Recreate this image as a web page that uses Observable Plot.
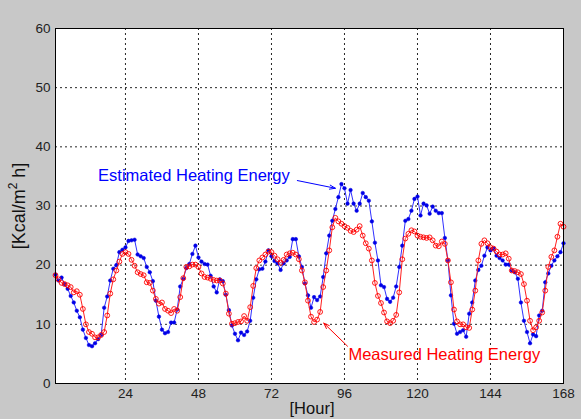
<!DOCTYPE html>
<html><head><meta charset="utf-8">
<script src="https://cdn.jsdelivr.net/npm/d3@7"></script>
<script src="https://cdn.jsdelivr.net/npm/@observablehq/plot@0.6"></script>
<style>
html,body{margin:0;padding:0;background:#c8c8c8;}
#chart{width:581px;height:419px;overflow:hidden;}
</style></head><body><div id="chart"></div>
<script>
// hour index 1..168
const hours = Array.from({length: 168}, (_, i) => i + 1);

const estimated = [
  18.4, 17.4, 17.9, 16.8, 16.0, 14.8, 13.7, 12.3, 11.2, 9.1,
  7.7, 6.5, 6.3, 6.8, 7.5, 8.2, 12.8, 14.7, 17.4, 19.4,
  20.0, 22.2, 22.6, 23.0, 24.1, 24.2, 24.3, 21.8, 21.5, 21.2,
  19.7, 18.8, 17.3, 14.0, 11.3, 9.1, 8.5, 8.7, 10.3, 10.3,
  12.5, 16.4, 17.7, 19.5, 20.2, 21.9, 23.3, 21.3, 20.6, 20.2,
  20.1, 18.2, 16.4, 15.4, 17.6, 17.3, 15.0, 12.4, 9.8, 8.4,
  7.3, 8.6, 8.2, 8.8, 10.6, 14.5, 17.6, 19.3, 19.4, 20.6,
  22.5, 21.5, 20.7, 20.3, 19.2, 20.3, 20.8, 21.4, 24.4, 24.4,
  21.5, 19.7, 16.9, 14.9, 12.8, 14.6, 14.1, 14.7, 18.0, 22.0,
  25.0, 27.5, 29.5, 31.5, 33.7, 33.0, 30.4, 32.7, 30.4, 29.2,
  30.4, 32.2, 31.5, 30.9, 27.4, 23.8, 20.8, 16.6, 16.3, 14.3,
  13.8, 14.5, 16.4, 19.7, 23.3, 27.5, 27.8, 29.2, 31.2, 31.6,
  28.4, 30.4, 30.1, 28.7, 29.9, 29.2, 28.8, 28.8, 24.6, 20.8,
  14.9, 10.1, 8.4, 8.7, 9.0, 7.9, 11.8, 13.7, 17.4, 19.2,
  19.9, 21.6, 23.0, 22.5, 22.8, 21.6, 21.2, 20.8, 20.1, 20.1,
  19.1, 18.8, 17.7, 13.7, 10.6, 8.7, 6.8, 8.3, 8.0, 11.5,
  12.3, 17.1, 18.6, 19.9, 20.8, 21.5, 22.2, 23.7
];

const measured = [
  18.3, 17.6, 17.0, 16.8, 16.6, 16.3, 15.4, 15.6, 15.0, 12.6,
  10.0, 8.7, 8.4, 7.8, 7.8, 8.2, 8.7, 11.5, 15.2, 17.6,
  19.1, 20.6, 21.9, 22.2, 21.9, 20.9, 19.9, 18.8, 18.5, 18.3,
  17.1, 17.0, 15.7, 14.3, 13.5, 13.7, 12.6, 12.3, 11.9, 12.6,
  12.3, 14.6, 17.8, 19.7, 19.8, 20.1, 20.1, 19.7, 18.6, 18.0,
  17.9, 17.7, 17.5, 17.4, 17.4, 16.9, 15.2, 11.8, 10.1, 10.2,
  10.4, 10.5, 11.4, 10.6, 12.9, 16.5, 19.5, 20.8, 21.3, 21.8,
  22.3, 22.2, 21.6, 21.0, 20.4, 20.9, 21.8, 22.0, 22.1, 21.8,
  21.0, 19.1, 17.1, 14.0, 11.3, 10.4, 10.8, 12.1, 16.3, 19.1,
  22.5, 26.4, 28.0, 27.4, 27.0, 26.6, 26.3, 25.8, 25.6, 26.0,
  26.6, 25.0, 23.7, 22.8, 20.8, 17.0, 14.8, 13.6, 12.0, 10.5,
  10.2, 10.6, 11.6, 15.4, 21.0, 24.5, 25.3, 25.9, 25.7, 25.0,
  24.8, 24.7, 24.6, 24.7, 24.2, 23.3, 23.2, 24.0, 23.6, 20.8,
  17.1, 12.5, 10.5, 10.0, 10.0, 9.5, 9.4, 12.5, 15.7, 20.8,
  23.6, 24.2, 23.7, 23.0, 22.8, 22.3, 21.8, 21.8, 22.0, 21.1,
  19.1, 19.0, 18.8, 18.5, 16.8, 14.0, 10.6, 9.0, 9.5, 10.6,
  12.0, 15.7, 19.7, 21.4, 22.5, 24.8, 27.0, 26.5
];

const xTicks = [24, 48, 72, 96, 120, 144, 168];
const yTicks = [0, 10, 20, 30, 40, 50, 60];
const seriesNames = ["Estimated Heating Energy", "Measured Heating Energy"];
const xLabel = "[Hour]";

const est = hours.map((h, i) => ({hour: h, value: estimated[i]}));
const mea = hours.map((h, i) => ({hour: h, value: measured[i]}));

const notes = [
  {name: seriesNames[0], x: 15, y: 35.15, color: "#0000ff", x1: 80.5, y1: 34.3, x2: 93, y2: 33.0},
  {name: seriesNames[1], x: 97.3, y: 4.9, color: "#ff0000", x1: 97.0, y1: 6.3, x2: 89.2, y2: 10.2}
];

const font = "'Liberation Sans', Arial, Helvetica, sans-serif";

const plot = Plot.plot({
  width: 581, height: 419,
  marginLeft: 55, marginRight: 18, marginTop: 28, marginBottom: 36,
  style: {background: "#c8c8c8", fontFamily: font, fontSize: "13.5px", color: "#222"},
  x: {domain: [1, 168]},
  y: {domain: [0, 60]},
  marks: [
    Plot.frame({fill: "white", stroke: "none"}),
    Plot.gridX(xTicks.slice(0, -1), {stroke: "#000", strokeOpacity: 0.85, strokeWidth: 1, strokeDasharray: "2,3"}),
    Plot.gridY(yTicks.slice(1, -1), {stroke: "#000", strokeOpacity: 0.85, strokeWidth: 1, strokeDasharray: "2,3"}),
    Plot.axisX(xTicks, {tickSize: 0, tickPadding: 5, label: null, fontSize: 13.5}),
    Plot.axisY(yTicks, {tickSize: 0, tickPadding: 5, label: null, fontSize: 13.5}),
    Plot.line(est, {x: "hour", y: "value", stroke: "#3030ff", strokeWidth: 1}),
    Plot.dot(est, {x: "hour", y: "value", r: 1.8, fill: "#0000e6", stroke: "#0000e6", strokeWidth: 0.5}),
    Plot.line(mea, {x: "hour", y: "value", stroke: "#ff2020", strokeWidth: 1}),
    Plot.dot(mea, {x: "hour", y: "value", r: 2.4, fill: "none", stroke: "#ff0000", strokeWidth: 0.9}),
    Plot.arrow(notes, {x1: "x1", y1: "y1", x2: "x2", y2: "y2", stroke: "color", strokeWidth: 1, headLength: 9, headAngle: 40}),
    Plot.text(notes, {x: "x", y: "y", text: "name", fill: "color", textAnchor: "start", fontSize: 16.5, fontFamily: font}),
    Plot.frame({stroke: "#000", strokeWidth: 1})
  ]
});

const svg = d3.select(plot);
const yl = svg.append("text")
  .attr("transform", "translate(20,206) rotate(-90)")
  .attr("text-anchor", "middle")
  .attr("dominant-baseline", "middle")
  .attr("font-family", font)
  .attr("font-size", 18)
  .attr("fill", "#111");
yl.append("tspan").text("[Kcal/m");
yl.append("tspan").attr("font-size", 12).attr("dy", -6).text("2");
yl.append("tspan").attr("dy", 6).text(" h]");

svg.append("text")
  .attr("x", 312).attr("y", 413.5)
  .attr("text-anchor", "middle")
  .attr("font-family", font)
  .attr("font-size", 16.5)
  .attr("fill", "#111")
  .text(xLabel);

document.getElementById("chart").appendChild(plot);
</script>
</body></html>
